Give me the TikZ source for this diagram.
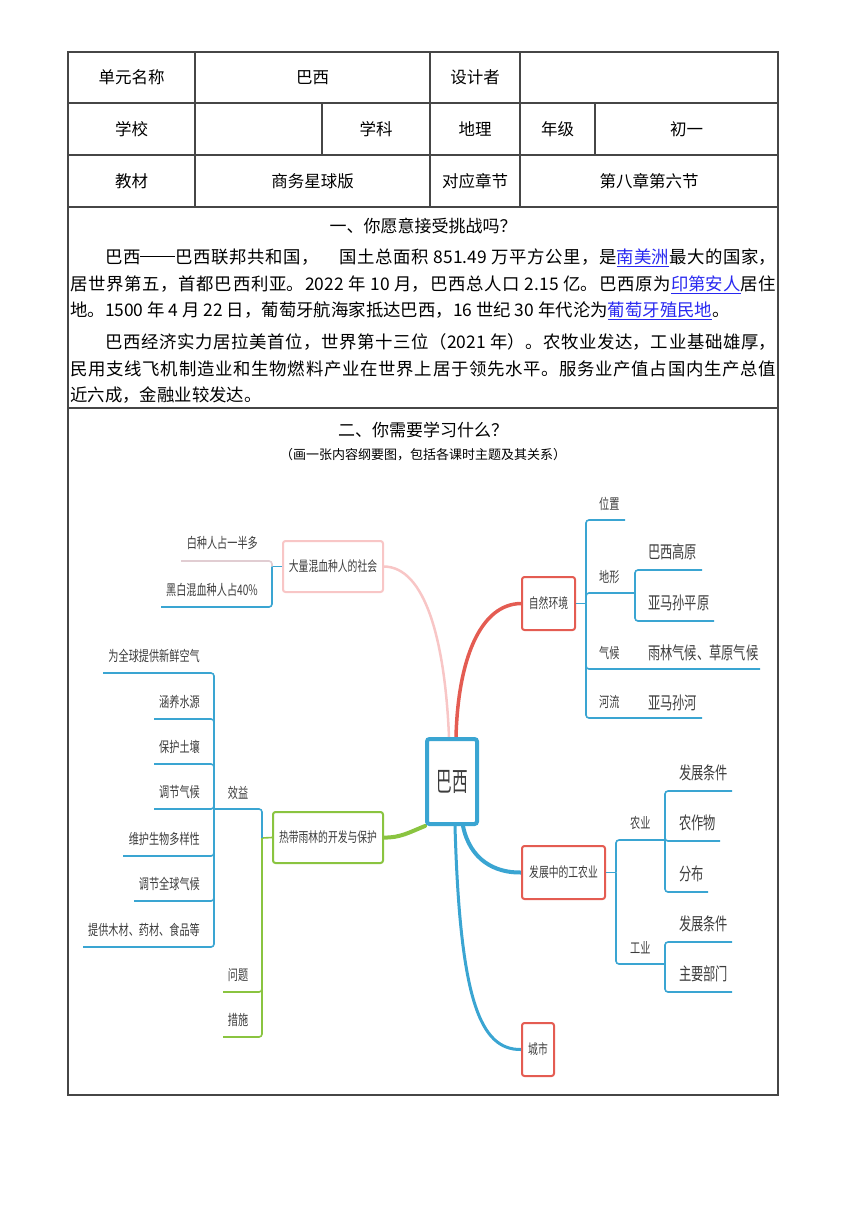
\documentclass[tikz,border=0pt]{standalone}
\usepackage{fontspec}
\setmainfont{Noto Sans CJK SC}
\newfontfamily\mapfont[FakeStretch=0.7]{Noto Sans CJK SC}
\newfontfamily\bigfont[FakeStretch=0.58]{Noto Sans CJK SC}
\XeTeXlinebreaklocale "zh"
\XeTeXlinebreakskip=0pt plus 2pt
\usetikzlibrary{backgrounds}

\definecolor{tablegray}{RGB}{70,70,70}
\definecolor{linkblue}{RGB}{40,40,240}
\definecolor{mapblue}{RGB}{58,165,210}
\definecolor{mapred}{RGB}{228,92,82}
\definecolor{mappink}{RGB}{248,198,198}
\definecolor{mapgreen}{RGB}{138,196,64}
\definecolor{mapgray}{RGB}{60,60,60}
\definecolor{pinkline}{RGB}{225,205,210}

\newcommand{\lnk}[1]{\textcolor{linkblue}{\underline{#1}}}
\newcommand{\longdash}{\raisebox{0.33em}{\rule{2em}{0.06em}}}

\tikzset{
  tline/.style={draw=tablegray, line width=1.1},
  cell/.style={inner sep=0, font=\fontsize{16.5}{16.5}\selectfont},
  para/.style={inner sep=0, anchor=base west, text width=706pt, align=justify, font=\fontsize{17.4}{17.4}\selectfont},
  paraend/.style={inner sep=0, anchor=base west, font=\fontsize{17.4}{17.4}\selectfont},
  box/.style={draw=#1, line width=2, rounded corners=2.5, fill=white, inner sep=2, text=mapgray, font=\mapfont\fontsize{14}{14}\selectfont},
  sm/.style={inner sep=0, text=mapgray, font=\mapfont\fontsize{14.5}{14.5}\selectfont},
  lg/.style={inner sep=0, text=mapgray, font=\mapfont\fontsize{17.5}{17.5}\selectfont},
  branch/.style={draw=#1, line width=1.6, rounded corners=3},
  limb/.style={draw=#1, line width=3.5, line cap=round},
}

\begin{document}
\begin{tikzpicture}[x=1pt, y=-1pt]

\useasboundingbox (0,0) rectangle (860,1216);

\draw[tline] (68,52) rectangle (778,1095);

\foreach \y in {103,155,207,408} \draw[tline] (68,\y) -- (778,\y);

\foreach \x in {195,430,520} \draw[tline] (\x,52) -- (\x,207);

\foreach \x in {322,595} \draw[tline] (\x,103) -- (\x,155);

\node[cell] (c11) at (131.5,77.5) {单元名称};
\node[cell] (c12) at (312.5,77.5) {巴西};
\node[cell] (c13) at (475,77.5) {设计者};

\node[cell] (c21) at (131.5,129) {学校};
\node[cell] (c22) at (376,129) {学科};
\node[cell] (c23) at (475,129) {地理};
\node[cell] (c24) at (557.5,129) {年级};
\node[cell] (c25) at (686.5,129) {初一};

\node[cell] (c31) at (131.5,181) {教材};
\node[cell] (c32) at (312.5,181) {商务星球版};
\node[cell] (c33) at (475,181) {对应章节};
\node[cell] (c34) at (649,181) {第八章第六节};

\node[cell, font=\fontsize{17}{17}\selectfont] (title1) at (423,226) {一、你愿意接受挑战吗？};

\node[para] (p1) at (70,263) {\parfillskip=0pt\relax\hspace*{2em}巴西\longdash 巴西联邦共和国，\hspace{1.2em}国土总面积 851.49 万平方公里，是\lnk{南美洲}最大的国家，\par};
\node[para] (p2) at (70,290) {\parfillskip=0pt\relax 居世界第五，首都巴西利亚。2022 年 10 月，巴西总人口 2.15 亿。巴西原为\lnk{印第安人}居住\par};
\node[paraend] (p3) at (70,316) {地。1500 年 4 月 22 日，葡萄牙航海家抵达巴西，16 世纪 30 年代沦为\lnk{葡萄牙殖民地}。};
\node[para] (p4) at (70,348) {\parfillskip=0pt\relax\hspace*{2em}巴西经济实力居拉美首位，世界第十三位（2021 年）。农牧业发达，工业基础雄厚，\par};
\node[para] (p5) at (70,375) {\parfillskip=0pt\relax 民用支线飞机制造业和生物燃料产业在世界上居于领先水平。服务业产值占国内生产总值\par};
\node[paraend] (p6) at (70,401) {近六成，金融业较发达。};

\node[cell, font=\fontsize{17}{17}\selectfont] (title2) at (423,430) {二、你需要学习什么？};
\node[cell, font=\fontsize{13}{13}\selectfont] (sub2) at (423,455) {（画一张内容纲要图，包括各课时主题及其关系）};

\node[box=mapblue, line width=4, minimum width=50, minimum height=85, font=\bigfont\fontsize{27}{27}\selectfont] (brazil) at (452,781.5) {巴西};
\node[box=mapred, minimum width=53, minimum height=53] (ziran) at (548.5,603.5) {自然环境};
\node[box=mappink, minimum width=100, minimum height=51] (hunxue) at (333,566.5) {大量混血种人的社会};
\node[box=mapgreen, minimum width=110, minimum height=51] (yulin) at (328,837.5) {热带雨林的开发与保护};
\node[box=mapred, minimum width=83, minimum height=53] (gongnong) at (563.5,872.5) {发展中的工农业};
\node[box=mapred, minimum width=32, minimum height=53] (chengshi) at (538,1049.5) {城市};

\begin{scope}[on background layer]
\draw[limb=mappink, line width=2.5] ([xshift=-3]brazil.north) .. controls (445,640) and (425,567) .. (hunxue.east);
\draw[limb=mapred] ([xshift=4]brazil.north) .. controls (458,660) and (480,604) .. (ziran.west);
\draw[limb=mapgreen, line width=4] (brazil.south west) .. controls (410,832) and (400,838) .. (yulin.east);
\draw[limb=mapblue, line width=4] ([xshift=11]brazil.south) .. controls (470,860) and (495,873) .. (gongnong.west);
\draw[limb=mapblue, line width=3] ([xshift=3]brazil.south) .. controls (460,1000) and (480,1050) .. (chengshi.west);
\end{scope}

\coordinate (zj) at (586,603.5);
\draw[branch=mapblue] (ziran.east) -- (zj);
\foreach \n/\y/\e/\t in {wz/520/625/位置, dx/593/635/地形, qh/669/760/气候, hl/718/702/河流} {
  \coordinate (\n) at (\e,\y);
  \draw[branch=mapblue] (zj) |- (\n);
  \node[sm, anchor=west] (\n-t) at (599,\y-16) {\t};
}
\foreach \n/\y/\e/\t in {gy/570/702/巴西高原, pj/621/714/亚马孙平原} {
  \coordinate (\n) at (\e,\y);
  \draw[branch=mapblue] (dx) |- (\n);
  \node[lg, anchor=west] (\n-t) at (648,\y-18.5) {\t};
}
\node[lg, anchor=west] (ylqh) at (648,653) {雨林气候、草原气候};
\node[lg, anchor=west] (ymsh) at (648,703) {亚马孙河};

\coordinate (hj) at (272,566.5);
\draw[branch=mapblue] (hunxue.west) -- (hj);
\coordinate (bz) at (181,561);
\coordinate (hb) at (161,607);
\draw[branch=pinkline] (hj) |- (bz);
\draw[branch=mapblue] (hj) |- (hb);
\node[sm, anchor=east] (bz-t) at (258,543) {白种人占一半多};
\node[sm, anchor=east] (hb-t) at (258,590) {黑白混血种人占40\%};

\coordinate (rj) at (262,838);
\draw[branch=mapgreen] (yulin.west) -- (rj);
\coordinate (xy) at (214,809);
\coordinate (wt) at (223,992);
\coordinate (cs) at (223,1037);
\draw[branch=mapblue] (rj) |- (xy);
\draw[branch=mapgreen] (rj) |- (wt);
\draw[branch=mapgreen] (rj) |- (cs);
\node[sm] (xy-t) at (238,793) {效益};
\node[sm] (wt-t) at (238,975) {问题};
\node[sm] (cs-t) at (238,1020) {措施};
\foreach \n/\y/\s/\t in {a/673/103/为全球提供新鲜空气, b/719/154/涵养水源, c/764/154/保护土壤, d/809/154/调节气候, e/856/123/维护生物多样性, f/901/134/调节全球气候, g/947/83/提供木材、药材、食品等} {
  \coordinate (xy-\n) at (\s,\y);
  \draw[branch=mapblue] (xy) |- (xy-\n);
  \node[sm, anchor=east] (xy-\n-t) at (200,\y-17) {\t};
}

\coordinate (fj) at (616,872.5);
\draw[branch=mapblue] (gongnong.east) -- (fj);
\coordinate (ny) at (665,840);
\coordinate (gy) at (665,964);
\draw[branch=mapblue] (fj) |- (ny);
\draw[branch=mapblue] (fj) |- (gy);
\node[sm, anchor=west] (ny-t) at (630,823) {农业};
\node[sm, anchor=west] (gy-t) at (630,948) {工业};
\foreach \n/\y/\e/\t in {a/791/732/发展条件, b/841/720/农作物, c/892/708/分布} {
  \coordinate (ny-\n) at (\e,\y);
  \draw[branch=mapblue] (ny) |- (ny-\n);
  \node[lg, anchor=west] (ny-\n-t) at (679,\y-18.5) {\t};
}
\foreach \n/\y/\e/\t in {a/942/732/发展条件, b/992/732/主要部门} {
  \coordinate (gy-\n) at (\e,\y);
  \draw[branch=mapblue] (gy) |- (gy-\n);
  \node[lg, anchor=west] (gy-\n-t) at (679,\y-18.5) {\t};
}

\end{tikzpicture}
\end{document}
